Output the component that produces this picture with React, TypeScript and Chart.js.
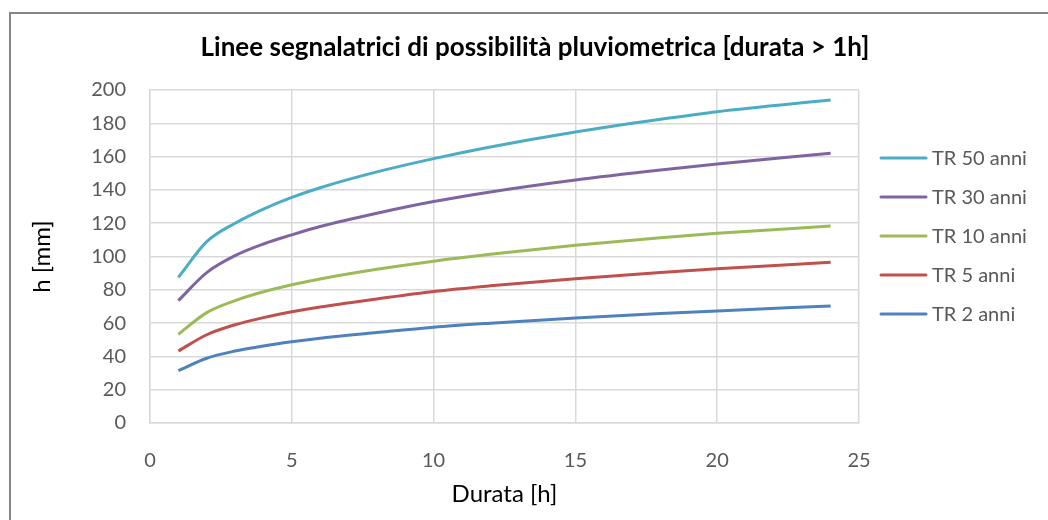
import React, { useEffect, useRef } from "react";
import { Chart, registerables } from "chart.js";

Chart.register(...registerables);

const durations = [1, 2, 3, 4, 5, 6, 8, 10, 12, 15, 18, 20, 24];
const tr50 = [87.5, 108.9, 120, 128.5, 135.5, 141.3, 150.8, 158.8, 165.8, 174.8, 182.4, 187, 194];
const tr30 = [73.5, 90.3, 100.5, 107.5, 113, 118, 126, 133, 138.8, 146, 152, 155.6, 162];
const tr10 = [53.3, 66.3, 73.5, 78.8, 83, 86.5, 92.3, 97.2, 101.3, 106.7, 111.2, 113.9, 118.3];
const tr5 = [43.2, 53, 59, 63.3, 66.8, 69.7, 74.5, 79, 82.4, 86.7, 90.4, 92.6, 96.5];
const tr2 = [31.4, 38.9, 43.2, 46.3, 48.8, 50.9, 54.3, 57.5, 59.9, 63, 65.7, 67.3, 70.3];

const seriesLabels = ["TR 50 anni", "TR 30 anni", "TR 10 anni", "TR 5 anni", "TR 2 anni"];
const seriesColors = ["#4BACC6", "#8064A2", "#9BBB59", "#C0504D", "#4F81BD"];
const seriesValues = [tr50, tr30, tr10, tr5, tr2];

const xTicks = [0, 5, 10, 15, 20, 25];

const chartTitle = "Linee segnalatrici di possibilità pluviometrica [durata > 1h]";
const xTitle = "Durata [h]";
const yTitle = "h [mm]";

const FONT = "Lato, 'Open Sans', sans-serif";
const TEXT = "#595959";

export default function App() {
  const ref = useRef<HTMLCanvasElement | null>(null);

  useEffect(() => {
    if (!ref.current) return;
    const framePlugin = {
      id: "frame",
      beforeDraw(chart: any) {
        const ctx = chart.ctx;
        ctx.save();
        ctx.fillStyle = "#ffffff";
        ctx.fillRect(0, 0, chart.width, chart.height);
        ctx.strokeStyle = "#868686";
        ctx.lineWidth = 2;
        ctx.beginPath();
        ctx.moveTo(10, chart.height + 5);
        ctx.lineTo(10, 13);
        ctx.lineTo(chart.width + 5, 13);
        ctx.stroke();
        ctx.restore();
      },
      afterDraw(chart: any) {
        const ctx = chart.ctx;
        const area = chart.chartArea;
        ctx.save();
        ctx.fillStyle = "#000000";
        ctx.font = `bold 26px ${FONT}`;
        ctx.textAlign = "center";
        ctx.textBaseline = "middle";
        ctx.fillText(chartTitle, 535, 48);
        ctx.font = `24px ${FONT}`;
        ctx.fillText(xTitle, (area.left + area.right) / 2, 494);
        ctx.save();
        ctx.translate(42, (area.top + area.bottom) / 2);
        ctx.rotate(-Math.PI / 2);
        ctx.fillText(yTitle, 0, 0);
        ctx.restore();
        ctx.font = `20px ${FONT}`;
        ctx.textAlign = "left";
        const ys = [158, 197, 236, 275, 314];
        chart.data.datasets.forEach((ds: any, i: number) => {
          const y = ys[i];
          ctx.strokeStyle = ds.borderColor;
          ctx.lineWidth = 3;
          ctx.lineCap = "round";
          ctx.beginPath();
          ctx.moveTo(881, y);
          ctx.lineTo(926, y);
          ctx.stroke();
          ctx.fillStyle = TEXT;
          ctx.fillText(ds.label, 932, y + 1);
        });
        ctx.restore();
      },
    };

    const chart = new Chart(ref.current, {
      type: "line",
      data: {
        datasets: seriesValues.map((vals, i) => ({
          label: seriesLabels[i],
          data: durations.map((d, j) => ({ x: d, y: vals[j] })),
          borderColor: seriesColors[i],
          backgroundColor: seriesColors[i],
          borderWidth: 3,
          pointRadius: 0,
          cubicInterpolationMode: "monotone" as const,
          fill: false,
        })),
      },
      options: {
        responsive: false,
        animation: false,
        layout: { padding: { left: 0, right: 189, top: 90, bottom: 0 } },
        plugins: {
          legend: { display: false },
          title: { display: false },
          tooltip: { enabled: false },
        },
        scales: {
          x: {
            type: "linear",
            min: 0,
            max: 25,
            afterBuildTicks(scale: any) {
              scale.ticks = xTicks.map((v) => ({ value: v }));
            },
            afterFit(scale: any) {
              scale.height = 97;
            },
            grid: { color: "#d9d9d9", lineWidth: 1.5, drawTicks: false },
            border: { color: "#d9d9d9", width: 1.5 },
            ticks: {
              color: TEXT,
              font: { family: FONT, size: 20 },
              padding: 26,
              maxRotation: 0,
            },
          },
          y: {
            min: 0,
            max: 200,
            afterFit(scale: any) {
              scale.width = 150;
            },
            grid: { color: "#d9d9d9", lineWidth: 1.5, drawTicks: false },
            border: { color: "#d9d9d9", width: 1.5 },
            ticks: {
              stepSize: 20,
              color: TEXT,
              font: { family: FONT, size: 20 },
              padding: 24,
            },
          },
        },
      },
      plugins: [framePlugin],
    });
    return () => chart.destroy();
  }, []);

  return (
    <div style={{ position: "fixed", left: 0, top: 0, width: 1048, height: 520 }}>
      <canvas ref={ref} width={1048} height={520} style={{ width: 1048, height: 520, display: "block" }} />
    </div>
  );
}
